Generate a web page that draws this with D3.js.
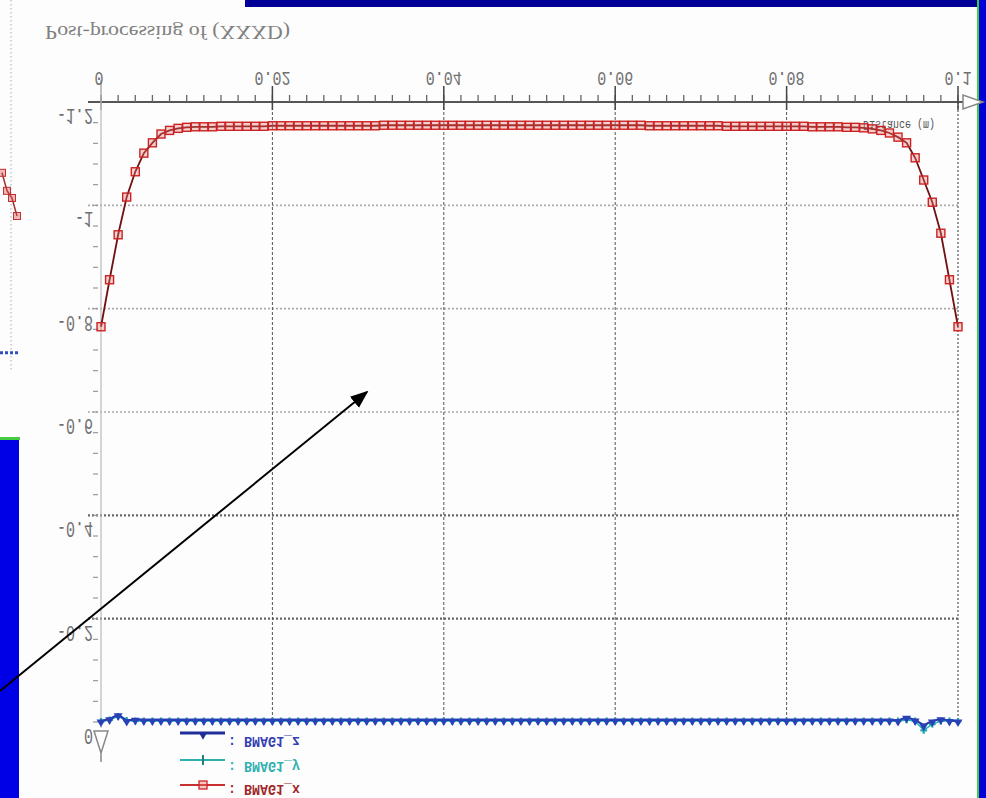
<!DOCTYPE html>
<html><head><meta charset="utf-8">
<script src="https://cdn.jsdelivr.net/npm/d3@7/dist/d3.min.js"></script>
<style>html,body{margin:0;padding:0;background:#fff;}svg{display:block;}</style>
</head><body>
<svg id="c" width="986" height="798"></svg>
<script>
// ---------- data ----------
const titleText = "Post-processing of (XXXD)";
const axisName = "Distance (m)";
const xTickValues = [0, 0.02, 0.04, 0.06, 0.08, 0.1];
const xTickLabels = ["0", "0.02", "0.04", "0.06", "0.08", "0.1"];
const yTickValues = [-1.2, -1, -0.8, -0.6, -0.4, -0.2, 0];
const yTickLabels = ["-1.2", "-1", "-0.8", "-0.6", "-0.4", "-0.2", "0"];
const seriesNames = ["BMAG1_z", "BMAG1_y", "BMAG1_x"];

const distance = [0,.001,.002,.003,.004,.005,.006,.007,.008,.009,
.010,.011,.012,.013,.014,.015,.016,.017,.018,.019,
.020,.021,.022,.023,.024,.025,.026,.027,.028,.029,
.030,.031,.032,.033,.034,.035,.036,.037,.038,.039,
.040,.041,.042,.043,.044,.045,.046,.047,.048,.049,
.050,.051,.052,.053,.054,.055,.056,.057,.058,.059,
.060,.061,.062,.063,.064,.065,.066,.067,.068,.069,
.070,.071,.072,.073,.074,.075,.076,.077,.078,.079,
.080,.081,.082,.083,.084,.085,.086,.087,.088,.089,
.090,.091,.092,.093,.094,.095,.096,.097,.098,.099,.1];

const bmagX = [-0.765,-0.856,-0.943,-1.016,-1.065,-1.101,-1.121,-1.138,-1.145,-1.149,
-1.151,-1.152,-1.152,-1.152,-1.153,-1.153,-1.153,-1.153,-1.153,-1.153,
-1.154,-1.154,-1.154,-1.154,-1.154,-1.154,-1.154,-1.154,-1.154,-1.154,
-1.154,-1.154,-1.154,-1.155,-1.155,-1.155,-1.155,-1.155,-1.155,-1.155,
-1.155,-1.155,-1.155,-1.155,-1.155,-1.155,-1.155,-1.155,-1.155,-1.155,
-1.155,-1.155,-1.155,-1.155,-1.155,-1.155,-1.155,-1.155,-1.155,-1.155,
-1.155,-1.155,-1.155,-1.155,-1.154,-1.154,-1.154,-1.154,-1.154,-1.154,
-1.154,-1.154,-1.154,-1.153,-1.153,-1.153,-1.153,-1.153,-1.153,-1.153,
-1.153,-1.153,-1.153,-1.152,-1.152,-1.152,-1.152,-1.151,-1.151,-1.150,
-1.148,-1.145,-1.140,-1.132,-1.121,-1.092,-1.049,-1.006,-0.946,-0.856,-0.765];

const bmagY = [-0.001,-0.004,-0.011,-0.003,-0.002,-0.002,-0.002,-0.002,-0.002,-0.002,
-0.002,-0.002,-0.002,-0.002,-0.002,-0.002,-0.002,-0.002,-0.002,-0.002,
-0.002,-0.002,-0.002,-0.002,-0.002,-0.002,-0.002,-0.002,-0.002,-0.002,
-0.002,-0.002,-0.002,-0.002,-0.002,-0.002,-0.002,-0.002,-0.002,-0.002,
-0.002,-0.002,-0.002,-0.002,-0.002,-0.002,-0.002,-0.002,-0.002,-0.002,
-0.002,-0.002,-0.002,-0.002,-0.002,-0.002,-0.002,-0.002,-0.002,-0.002,
-0.002,-0.002,-0.002,-0.002,-0.002,-0.002,-0.002,-0.002,-0.002,-0.002,
-0.002,-0.002,-0.002,-0.002,-0.002,-0.002,-0.002,-0.002,-0.002,-0.002,
-0.002,-0.002,-0.002,-0.002,-0.002,-0.002,-0.002,-0.002,-0.002,-0.002,
-0.002,-0.002,-0.002,-0.002,-0.004,-0.002,0.016,0.004,-0.002,-0.002,-0.001];

const bmagZ = [-0.002,-0.006,-0.014,-0.003,-0.005,-0.004,-0.004,-0.004,-0.004,-0.004,
-0.004,-0.004,-0.004,-0.004,-0.004,-0.004,-0.004,-0.004,-0.004,-0.004,
-0.004,-0.004,-0.004,-0.004,-0.004,-0.004,-0.004,-0.004,-0.004,-0.004,
-0.004,-0.004,-0.004,-0.004,-0.004,-0.004,-0.004,-0.004,-0.004,-0.004,
-0.004,-0.004,-0.004,-0.004,-0.004,-0.004,-0.004,-0.004,-0.004,-0.004,
-0.004,-0.004,-0.004,-0.004,-0.004,-0.004,-0.004,-0.004,-0.004,-0.004,
-0.004,-0.004,-0.004,-0.004,-0.004,-0.004,-0.004,-0.004,-0.004,-0.004,
-0.004,-0.004,-0.004,-0.004,-0.004,-0.004,-0.004,-0.004,-0.004,-0.004,
-0.004,-0.004,-0.004,-0.004,-0.004,-0.004,-0.004,-0.004,-0.004,-0.004,
-0.004,-0.004,-0.004,-0.003,-0.009,-0.004,0.006,-0.002,-0.006,-0.003,-0.002];

// fragment of a neighbouring chart visible at the left edge
const sideFragX = [0, 1, 2, 3];
const sideFragVals = [0.52, 0.47, 0.45, 0.40];

// ---------- drawing ----------
const svg = d3.select("#c");
const W = 986, H = 798;
svg.append("rect").attr("width", W).attr("height", H).attr("fill", "#fdfdfd");

const x = d3.scaleLinear().domain([0, 0.1]).range([101, 958]);
const y = d3.scaleLinear().domain([-1.2, 0]).range([102, 722]);

const mono = "'Liberation Mono', 'DejaVu Sans Mono', monospace";
function flipText(g, px, py, txt, o) {
  o = o || {};
  const t = g.append("text")
    .attr("transform", `translate(${px},${py}) scale(${o.sx || 1},${-(o.sy || 1)})`)
    .attr("x", 0).attr("y", 0)
    .attr("text-anchor", o.anchor || "start")
    .attr("font-family", o.font || mono)
    .attr("font-size", o.size || 15)
    .attr("font-weight", o.weight || "normal")
    .attr("fill", o.fill || "#666")
    .text(txt);
  if (o.len) t.attr("textLength", o.len).attr("lengthAdjust", "spacingAndGlyphs");
  return t;
}

// frame decorations (slide background pieces)
svg.append("rect").attr("x", 245).attr("y", 0).attr("width", W - 245).attr("height", 7).attr("fill", "#000096");
svg.append("rect").attr("x", 977).attr("y", 0).attr("width", 2).attr("height", H).attr("fill", "#3ccf3c");
svg.append("rect").attr("x", 979).attr("y", 0).attr("width", 7).attr("height", H).attr("fill", "#0000d8");
svg.append("rect").attr("x", 0).attr("y", 437).attr("width", 20).attr("height", 3).attr("fill", "#44cc44");
svg.append("rect").attr("x", 0).attr("y", 440).attr("width", 19).attr("height", H - 440).attr("fill", "#0000e6");

// left fragment of other chart
const sx = d3.scaleLinear().domain([0, 3]).range([2, 17]);
const sy = d3.scaleLinear().domain([0, 1]).range([360, 0]);
svg.append("line").attr("x1", 11).attr("x2", 11).attr("y1", 0).attr("y2", 370)
  .attr("stroke", "#aaa").attr("stroke-dasharray", "1.5,2.5");
svg.append("path").datum(sideFragVals)
  .attr("d", d3.line().x((d, i) => sx(sideFragX[i])).y(d => sy(d)))
  .attr("fill", "none").attr("stroke", "#a03030").attr("stroke-width", 1.5);
svg.selectAll(".sfm").data(sideFragVals).enter().append("rect")
  .attr("x", (d, i) => sx(sideFragX[i]) - 3.5).attr("y", d => sy(d) - 3.5)
  .attr("width", 7).attr("height", 7).attr("fill", "rgba(220,80,80,0.4)").attr("stroke", "#c03030");
svg.append("line").attr("x1", 0).attr("x2", 19).attr("y1", sy(0.02)).attr("y2", sy(0.02))
  .attr("stroke", "#3050c0").attr("stroke-width", 3).attr("stroke-dasharray", "3,2");

// title
flipText(svg, 45, 26, titleText, { font: "'Liberation Serif', serif", size: 17, sy: 1.05, fill: "#808080", len: 245 });

// horizontal grid
const g = svg.append("g");
yTickValues.slice(1, 6).forEach((v, i) => {
  const dark = v > -0.5;
  g.append("line").attr("x1", 88).attr("x2", 958).attr("y1", y(v)).attr("y2", y(v))
    .attr("stroke", dark ? "#666" : "#aaa").attr("stroke-width", dark ? 2.2 : 1.6)
    .attr("stroke-dasharray", "2,2");
});
// vertical grid
xTickValues.slice(1).forEach((v, i) => {
  const last = i === xTickValues.length - 2;
  g.append("line").attr("x1", x(v)).attr("x2", x(v)).attr("y1", 102).attr("y2", 722)
    .attr("stroke", last ? "#777" : "#555").attr("stroke-width", last ? 1.5 : 1)
    .attr("stroke-dasharray", last ? "2,2" : "3,2");
});

// y axis
g.append("line").attr("x1", 101).attr("x2", 101).attr("y1", 102).attr("y2", 728).attr("stroke", "#bbb").attr("stroke-width", 1.2);
d3.range(0, 31).map(i => -1.2 + i * 0.04).forEach(v => {
  g.append("line").attr("x1", 93).attr("x2", 98).attr("y1", y(v)).attr("y2", y(v))
    .attr("stroke", "#999").attr("stroke-width", 1.2);
});
g.append("path").attr("d", "M94,731 L108,731 L101,753 Z M101,753 L101,762")
  .attr("fill", "none").attr("stroke", "#888").attr("stroke-width", 1.5);
yTickValues.forEach((v, i) => {
  flipText(g, 93, y(v) + 7, yTickLabels[i], { anchor: "end", size: 15, sy: 1.45, fill: "#707070" });
});

// x axis
g.append("line").attr("x1", 88).attr("x2", 963).attr("y1", 102).attr("y2", 102).attr("stroke", "#555").attr("stroke-width", 2);
x.ticks(50).forEach(v => {
  g.append("line").attr("x1", x(v)).attr("x2", x(v)).attr("y1", 95).attr("y2", 102)
    .attr("stroke", "#666").attr("stroke-width", 1.3);
});
xTickValues.forEach((v, i) => {
  g.append("line").attr("x1", x(v)).attr("x2", x(v)).attr("y1", i === 0 ? 80 : 86).attr("y2", 110)
    .attr("stroke", i === 0 ? "#aaa" : "#444").attr("stroke-width", 1.5);
  flipText(g, x(v) - (i === 0 ? 2 : 0), 72, xTickLabels[i], { anchor: "middle", size: 15, sy: 1.3, fill: "#707070" });
});
g.append("path").attr("d", "M963,95 L963,109 L983,102 Z").attr("fill", "#fff").attr("stroke", "#888").attr("stroke-width", 1.5);
flipText(g, 935, 121, axisName, { anchor: "end", size: 10, sy: 1.3, fill: "#555", len: 72 });

// series
const line = d3.line().x((d, i) => x(distance[i])).y(d => y(d));
// red X
g.append("path").datum(bmagX).attr("d", line).attr("fill", "none").attr("stroke", "#701010").attr("stroke-width", 1.8);
g.selectAll(".mx").data(bmagX).enter().append("rect")
  .attr("x", (d, i) => x(distance[i]) - 4).attr("y", d => y(d) - 4)
  .attr("width", 8).attr("height", 8)
  .attr("fill", "rgba(235,120,120,0.35)").attr("stroke", "#cc2222").attr("stroke-width", 1.4);
// teal Y
g.append("path").datum(bmagY).attr("d", line).attr("fill", "none").attr("stroke", "#22b4b4").attr("stroke-width", 1.5);
g.selectAll(".my").data(bmagY).enter().append("path")
  .attr("transform", (d, i) => `translate(${x(distance[i])},${y(d)})`)
  .attr("d", d3.symbol(d3.symbolCross, 26)).attr("fill", "#22a8b0");
// navy Z
g.append("path").datum(bmagZ).attr("d", line).attr("fill", "none").attr("stroke", "#2036a8").attr("stroke-width", 2);
g.selectAll(".mz").data(bmagZ).enter().append("path")
  .attr("transform", (d, i) => `translate(${x(distance[i])},${y(d) + 1}) rotate(180)`)
  .attr("d", d3.symbol(d3.symbolTriangle, 34)).attr("fill", "#2a40b8");

// legend
const legColors = ["#1e2f9a", "#2cb0b0", "#c83030"];
const legText = ["#3440b0", "#30b0b0", "#a02828"];
const legY = [733, 760, 785];
const legBase = [737, 762, 785];
seriesNames.forEach((nm, i) => {
  const ly = legY[i];
  g.append("line").attr("x1", 180).attr("x2", 225).attr("y1", ly).attr("y2", ly)
    .attr("stroke", legColors[i]).attr("stroke-width", i === 0 ? 3 : 1.8);
  if (i === 0) g.append("path").attr("transform", `translate(203,${ly + 2}) rotate(180)`).attr("d", d3.symbol(d3.symbolTriangle, 30)).attr("fill", legColors[i]);
  if (i === 1) g.append("line").attr("x1", 203).attr("x2", 203).attr("y1", ly - 5).attr("y2", ly + 5).attr("stroke", "#208080").attr("stroke-width", 2);
  if (i === 2) g.append("rect").attr("x", 199).attr("y", ly - 4).attr("width", 8).attr("height", 8).attr("fill", "rgba(235,120,120,0.4)").attr("stroke", "#d02424").attr("stroke-width", 1.3);
  flipText(g, 228, legBase[i], ": " + nm, { size: 13.5, sy: 1.1, fill: legText[i], weight: "bold", len: 72 });
});

// annotation arrow
const defs = svg.append("defs");
defs.append("marker").attr("id", "ah").attr("viewBox", "0 0 10 10").attr("refX", 9).attr("refY", 5)
  .attr("markerWidth", 9).attr("markerHeight", 9).attr("orient", "auto")
  .append("path").attr("d", "M0,1 L10,5 L0,9 Z").attr("fill", "#000");
svg.append("line").attr("x1", 0).attr("y1", 691).attr("x2", 367).attr("y2", 392)
  .attr("stroke", "#000").attr("stroke-width", 2).attr("marker-end", "url(#ah)");
</script>
</body></html>
